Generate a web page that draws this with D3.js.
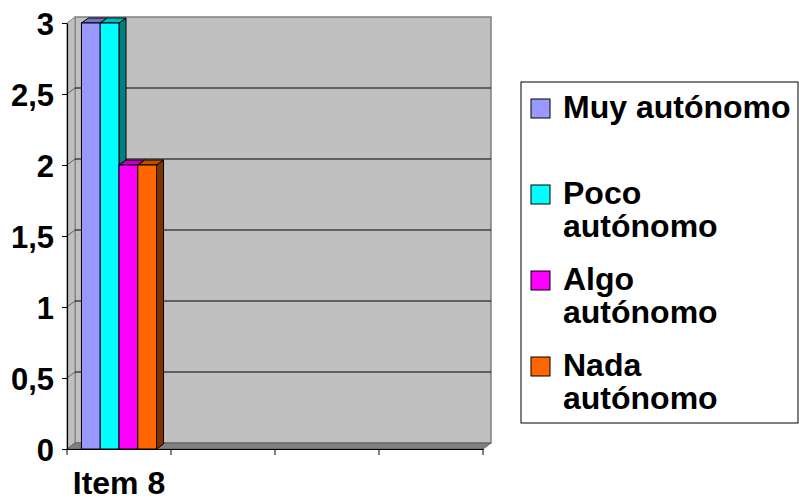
<!DOCTYPE html>
<html>
<head>
<meta charset="utf-8">
<script src="https://cdn.jsdelivr.net/npm/d3@7"></script>
<style>
  body { margin: 0; background: #fff; }
  text { font-family: "Liberation Sans", Arial, sans-serif; font-weight: bold; fill: #000; }
</style>
</head>
<body>
<div id="chart"></div>
<script>
// data
var categories = ["Item 8", "", "", ""];
var seriesNames = ["Muy autónomo", "Poco autónomo", "Algo autónomo", "Nada autónomo"];
var legendLines = [["Muy autónomo"], ["Poco", "autónomo"], ["Algo", "autónomo"], ["Nada", "autónomo"]];
var muyValues = [3, null, null, null];
var pocoValues = [3, null, null, null];
var algoValues = [2, null, null, null];
var nadaValues = [2, null, null, null];
var yTicks = [0, 0.5, 1, 1.5, 2, 2.5, 3];

var seriesValues = [muyValues, pocoValues, algoValues, nadaValues];
var colors = [
    { front: "#9999FF", top: "#7373BF", side: "#4D4D80" },
    { front: "#00FFFF", top: "#00BFBF", side: "#008080" },
    { front: "#FF00FF", top: "#BF00BF", side: "#800080" },
    { front: "#FF6600", top: "#BF4D00", side: "#803300" }
];

var width = 799, height = 500,
    plot = { left: 67, right: 483, top: 23, bottom: 449 },
    wallDx = 8, wallDy = 6,   // depth of the walls
    barDx = 7, barDy = 5;     // depth of the bars

var svg = d3.select("#chart").append("svg")
    .attr("width", width).attr("height", height);

var y = d3.scaleLinear().domain([0, 3]).range([plot.bottom, plot.top]);
var x0 = d3.scaleBand().domain(d3.range(categories.length)).range([plot.left, plot.right]);
var x1 = d3.scaleBand().domain(d3.range(seriesNames.length))
    .range([0, x0.bandwidth()]).paddingInner(0).paddingOuter(0.77);

var pts = function (a) { return a.map(function (p) { return p.join(","); }).join(" "); };

// back wall
svg.append("polygon")
    .attr("points", pts([[plot.left + wallDx, plot.top - wallDy], [plot.right + wallDx, plot.top - wallDy],
        [plot.right + wallDx, plot.bottom - wallDy], [plot.left + wallDx, plot.bottom - wallDy]]))
    .attr("fill", "#C0C0C0").attr("stroke", "#808080").attr("stroke-width", 1.5);

// side wall
svg.append("polygon")
    .attr("points", pts([[plot.left, plot.top], [plot.left + wallDx, plot.top - wallDy],
        [plot.left + wallDx, plot.bottom - wallDy], [plot.left, plot.bottom]]))
    .attr("fill", "#C0C0C0").attr("stroke", "#808080").attr("stroke-width", 1);

// floor
svg.append("polygon")
    .attr("points", pts([[plot.left, plot.bottom], [plot.left + wallDx, plot.bottom - wallDy],
        [plot.right + wallDx, plot.bottom - wallDy], [plot.right, plot.bottom]]))
    .attr("fill", "#808080").attr("stroke", "#606060").attr("stroke-width", 1);

// gridlines on back wall and side wall
var grid = svg.append("g");
yTicks.filter(function (d) { return d > 0 && d < 3; }).forEach(function (d) {
    grid.append("line")
        .attr("x1", plot.left + wallDx).attr("x2", plot.right + wallDx)
        .attr("y1", y(d) - wallDy).attr("y2", y(d) - wallDy)
        .attr("stroke", "#000").attr("stroke-width", 1);
    grid.append("line")
        .attr("x1", plot.left).attr("x2", plot.left + wallDx)
        .attr("y1", y(d)).attr("y2", y(d) - wallDy)
        .attr("stroke", "#606060").attr("stroke-width", 1);
});

// bars
var bars = svg.append("g");
categories.forEach(function (c, ci) {
    seriesValues.forEach(function (vals, si) {
        var v = vals[ci];
        if (v == null) return;
        var bx = x0(ci) + x1(si), bw = x1.bandwidth(),
            by = y(v), bb = y(0), col = colors[si];
        bars.append("polygon")
            .attr("points", pts([[bx + bw, by], [bx + bw + barDx, by - barDy],
                [bx + bw + barDx, bb - barDy], [bx + bw, bb]]))
            .attr("fill", col.side).attr("stroke", "#000").attr("stroke-width", 1);
        bars.append("polygon")
            .attr("points", pts([[bx, by], [bx + barDx, by - barDy],
                [bx + bw + barDx, by - barDy], [bx + bw, by]]))
            .attr("fill", col.top).attr("stroke", "#000").attr("stroke-width", 1);
        bars.append("rect")
            .attr("x", bx).attr("y", by).attr("width", bw).attr("height", bb - by)
            .attr("fill", col.front).attr("stroke", "#000").attr("stroke-width", 1);
    });
});

// axes
var fmt = d3.formatLocale({ decimal: ",", thousands: ".", grouping: [3], currency: ["", ""] }).format(".1~f");

var yAxis = svg.append("g")
    .attr("transform", "translate(" + plot.left + ",0)")
    .call(d3.axisLeft(y).tickValues(yTicks).tickFormat(fmt).tickSize(5).tickSizeOuter(0).tickPadding(8));

var xAxis = svg.append("g")
    .attr("transform", "translate(0," + plot.bottom + ")")
    .call(d3.axisBottom(x0).tickFormat(function (i) { return categories[i]; }).tickSize(0).tickSizeOuter(0).tickPadding(22));

// category boundary ticks
x0.domain().concat([categories.length]).forEach(function (i) {
    var xx = i < categories.length ? x0(i) : plot.right;
    xAxis.append("line").attr("x1", xx).attr("x2", xx).attr("y1", 0).attr("y2", 6)
        .attr("stroke", "#000");
});

svg.selectAll(".domain").attr("stroke", "#000").attr("stroke-width", 1.2);
svg.selectAll(".tick line").attr("stroke", "#000");
svg.selectAll(".tick text")
    .style("font-family", "'Liberation Sans', Arial, sans-serif")
    .style("font-weight", "bold").style("font-size", "31px").attr("fill", "#000");
yAxis.selectAll(".tick text").attr("dy", "0.36em");
xAxis.selectAll(".tick text").style("font-size", "32px");

// legend
var legend = svg.append("g");
legend.append("rect")
    .attr("x", 521).attr("y", 82).attr("width", 277).attr("height", 341)
    .attr("fill", "#fff").attr("stroke", "#000").attr("stroke-width", 1);

var entryY = [118, 204, 290, 376];
legendLines.forEach(function (lines, i) {
    legend.append("rect")
        .attr("x", 531).attr("y", entryY[i] - 19).attr("width", 19).attr("height", 19)
        .attr("fill", colors[i].front).attr("stroke", "#000").attr("stroke-width", 1);
    var t = legend.append("text")
        .attr("x", 563).attr("y", entryY[i])
        .style("font-size", "32px");
    lines.forEach(function (ln, j) {
        t.append("tspan").attr("x", 563).attr("y", entryY[i] + j * 33).text(ln);
    });
});
</script>
</body>
</html>
